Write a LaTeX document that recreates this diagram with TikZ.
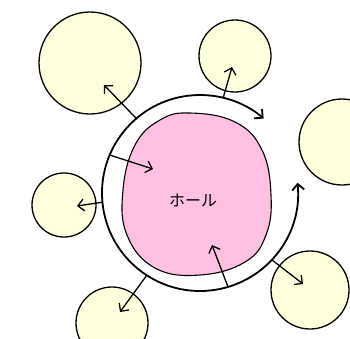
\documentclass[tikz,border=0pt]{standalone}
\usepackage{fontspec}
\newfontfamily\jpfont{Noto Sans CJK JP}
\definecolor{CellYellow}{RGB}{255,255,221}
\definecolor{HolePink}{RGB}{255,192,226}
\usetikzlibrary{arrows.meta,calc}

\begin{document}
\begin{tikzpicture}[x=1pt, y=-1pt,
    every node/.style={font=\jpfont\fontsize{16}{18}\selectfont, align=center},
    cell/.style={circle, draw=black, fill=CellYellow, line width=1.3pt, inner sep=0pt},
    holeshape/.style={draw=black, fill=HolePink, line width=1.1pt},
    ring/.style={line width=1.8pt, {Straight Barb[length=6pt,width=12pt]}-{Straight Barb[length=6pt,width=12pt]}},
    arr/.style={-{Straight Barb[length=6pt,width=12pt]}, line width=1.3pt}
  ]
  \useasboundingbox (0,0) rectangle (350,338);
  % cells around the hole
  \node[cell, minimum size=102pt] (celltl) at (90,63) {};
  \node[cell, minimum size=72pt] (celltm) at (235,56) {};
  \node[cell, minimum size=86pt] (cellr) at (342,142) {};
  \node[cell, minimum size=64pt] (celll) at (64,205) {};
  \node[cell, minimum size=72pt] (cellbl) at (112,323) {};
  \node[cell, minimum size=78pt] (cellbr) at (310,290) {};
  % the hole
  \draw[holeshape] plot[smooth cycle, tension=0.7] coordinates {
      (190,113) (235,122) (262,150) (271,195) (266,235) (245,262)
      (200,275) (155,268) (127,235) (123,190) (135,145) (160,120)};
  \node (hole) at (193,200) {ホール};
  % ring
  \coordinate (rc) at (200,193);
  \draw[ring] ($(rc)+(-6:98)$) arc[start angle=-6, end angle=310.5, radius=98];
  \coordinate (a1) at ($(rc)+(229.5:98)$);
  \coordinate (a2) at ($(rc)+(283.7:98)$);
  \coordinate (a3) at ($(rc)+(202.8:98)$);
  \coordinate (a4) at ($(rc)+(174.6:98)$);
  \coordinate (a5) at ($(rc)+(122.9:98)$);
  \coordinate (a6) at ($(rc)+(73.4:98)$);
  \coordinate (a7) at ($(rc)+(42.9:98)$);
  \coordinate (t1) at (104,85);
  \coordinate (t2) at (232,67);
  \coordinate (t3) at (153,169);
  \coordinate (t4) at (77,206);
  \coordinate (t5) at (120,312);
  \coordinate (t6) at (212,245);
  \coordinate (t7) at (303,284);
  \draw[arr] (a1) -- (t1);
  \draw[arr] (a2) -- (t2);
  \draw[arr] (a3) -- (t3);
  \draw[arr] (a4) -- (t4);
  \draw[arr] (a5) -- (t5);
  \draw[arr] (a6) -- (t6);
  \draw[arr] (a7) -- (t7);
\end{tikzpicture}
\end{document}
